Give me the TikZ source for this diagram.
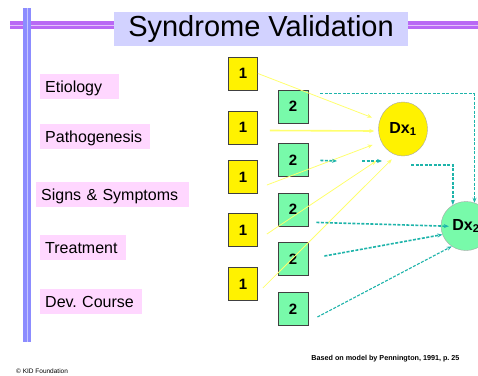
\documentclass[tikz,border=0pt]{standalone}
\usepackage{fontspec}
\setmainfont{Liberation Sans}
\usepackage{xcolor}
\usepackage{tikz}
\usetikzlibrary{arrows.meta, calc, positioning, shapes}
\definecolor{titlebg}{RGB}{210,210,255}
\definecolor{barpurple}{RGB}{185,105,245}
\definecolor{barblue}{RGB}{140,140,255}
\definecolor{labelpink}{RGB}{255,215,255}
\definecolor{boxgreen}{RGB}{120,250,170}
\definecolor{lineteal}{RGB}{30,180,170}
\definecolor{lineyellow}{RGB}{255,255,110}
\frenchspacing
\tikzset{
    labelbox/.style={fill=labelpink,anchor=west,inner xsep=5pt,minimum height=25pt,align=left,text height=12pt,text depth=0pt,font=\fontsize{16}{19}\selectfont},
    onebox/.style={draw=black!75,fill=yellow,line width=0.8pt,minimum width=29pt,minimum height=33pt,font=\bfseries\fontsize{15}{18}\selectfont},
    twobox/.style={draw=black!75,fill=boxgreen,line width=0.8pt,minimum width=30pt,minimum height=33pt,font=\bfseries\fontsize{15}{18}\selectfont}
}

\begin{document}
\begin{tikzpicture}[x=1pt,y=-1pt]
\tikzset{
    yarrow/.style={draw=lineyellow,line width=0.8pt,-{Stealth[length=5pt,width=4pt]}},
    tarrow/.style={draw=lineteal,line width=1.6pt,dash pattern=on 3pt off 1.5pt,-{Stealth[length=5pt,width=4pt]}},
    dxnode/.style={draw=black!35,ellipse,font=\bfseries\fontsize{16}{19}\selectfont}
}
  \useasboundingbox (0,0) rectangle (478,375);
  \fill[white] (0,0) rectangle (478,375);
  \fill[barpurple] (10,21) rectangle (478,29);
  \fill[barpurple!40] (10,24.5) rectangle (478,25.5);
  \fill[barblue] (23,8) rectangle (31,342);
  \fill[barblue!50] (26.5,8) rectangle (27.5,342);
  \node[fill=titlebg,minimum width=294pt,minimum height=32pt,font=\fontsize{29}{32}\selectfont] (title) at (261,29) {Syndrome Validation};
  \node[labelbox,text width=69pt] (etio) at (40,86.5) {Etiology};
  \node[labelbox,text width=100pt] (patho) at (40,136.5) {Pathogenesis};
  \node[labelbox,text width=143pt] (signs) at (36,194.5) {Signs \& Symptoms};
  \node[labelbox,text width=76pt] (treat) at (40,247.5) {Treatment};
  \node[labelbox,text width=92pt] (course) at (40,301.5) {Dev. Course};
  \node[onebox] (y1) at (243,73.5) {1};
  \node[onebox] (y2) at (243,127.5) {1};
  \node[onebox] (y3) at (243,177) {1};
  \node[onebox] (y4) at (243,230) {1};
  \node[onebox] (y5) at (243,284) {1};
  \node[twobox] (g1) at (293,106.5) {2};
  \node[twobox] (g2) at (293,160) {2};
  \node[twobox] (g3) at (293,209.5) {2};
  \node[twobox] (g4) at (293,259) {2};
  \node[twobox] (g5) at (293,309) {2};
  \node[dxnode,fill=yellow,minimum width=49pt,minimum height=54pt] (dx1) at (403,129) {Dx\textsubscript{1}};
  \node[dxnode,fill=boxgreen,minimum width=50pt,minimum height=49pt] (dx2) at (466,226) {Dx\textsubscript{2}};
  \coordinate (gapA) at (337,161);
  \coordinate (gapB) at (362,161);
  \coordinate (gapC) at (382,161);
  \draw[yarrow,shorten >=8pt] (y1.east) -- (dx1.160);
  \draw[yarrow,line width=1.6pt] ($(y2.east)+(12,3)$) -- ($(dx1.west)+(-4,2)$);
  \draw[yarrow,shorten >=9pt] ($(y3.east)+(9,8)$) -- (dx1.210);
  \draw[yarrow,shorten >=16pt] ($(y4.east)+(9,4)$) -- (dx1.240);
  \draw[yarrow,shorten >=6pt] ($(y5.east)+(5,4)$) -- (dx1.255);
  \draw[tarrow] ($(g1.north east)+(12,4)$) -| (dx2.70);
  \draw[tarrow,shorten <=12pt] (g2.east) -- (gapA);
  \draw[tarrow] (gapB) -- (gapC);
  \draw[tarrow] ($(dx1.south)+(8,9)$) -| (dx2.122);
  \draw[tarrow,shorten >=-8pt] ($(g3.south east)+(8,-4)$) -- (dx2.west);
  \draw[tarrow] ($(g4.east)+(16,-3)$) -- (dx2.200);
  \draw[tarrow,line width=1.1pt] ($(g5.east)+(9,8)$) -- (dx2.235);
  \node[anchor=base east,font=\bfseries\fontsize{7.2}{8}\selectfont] (source) at (463,360) {Based on model by Pennington, 1991, p. 25};
  \node[anchor=base west,font=\fontsize{6.5}{7}\selectfont,inner sep=0pt] (copy) at (16,373) {© KID Foundation};
\end{tikzpicture}
\end{document}
